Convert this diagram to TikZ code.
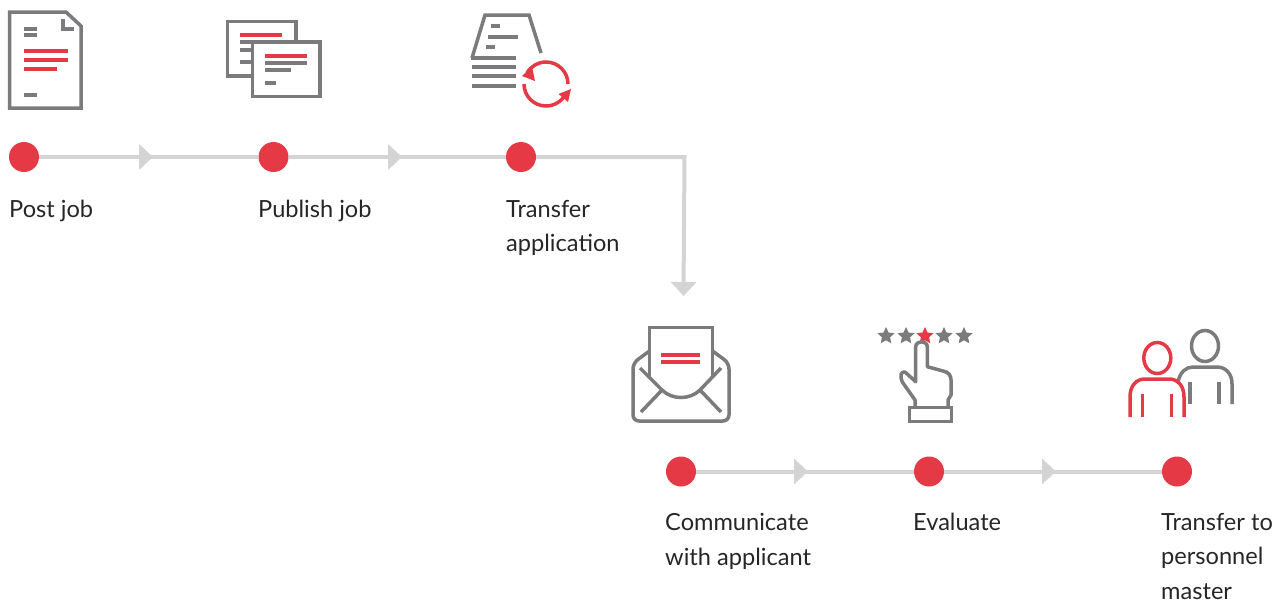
\documentclass[tikz,border=0pt]{standalone}
\usepackage{fontspec}
\setmainfont{Lato}
\usetikzlibrary{arrows.meta,shapes.geometric}
\definecolor{rd}{HTML}{E63946}
\definecolor{gy}{HTML}{7B7B7D}
\definecolor{ln}{HTML}{D4D4D4}
\tikzset{
  bullet/.style={circle,fill=rd,minimum size=30pt,inner sep=0pt},
  conn/.style={draw=ln,line width=4pt},
  flow/.style={conn,-{Triangle[length=14pt,width=25pt,fill=ln]}},
  lab/.style={anchor=north west,inner sep=0pt,align=left,text=black!85,font=\fontsize{23.6}{34.6}\selectfont},
  gl/.style={draw=gy,line width=3.5pt},
  rl/.style={draw=rd,line width=3.5pt},
  bar/.style={draw=gy,line width=4pt},
  rbar/.style={draw=rd,line width=4pt},
  str/.style={star,star points=5,star point ratio=2.1,minimum size=18pt,inner sep=0pt,fill=gy},
}
\begin{document}
\begin{tikzpicture}[x=1pt,y=-1pt]
\useasboundingbox (0,0) rectangle (1277,600);
% connectors
\coordinate (n1c) at (24,157);
\coordinate (n2c) at (273.5,157);
\coordinate (n3c) at (521,157);
\coordinate (n4c) at (681,471.5);
\coordinate (n5c) at (929,471.5);
\coordinate (n6c) at (1177,471.5);
\coordinate (a1) at (153,157);
\coordinate (a2) at (402,157);
\coordinate (c1) at (684.5,157);
\coordinate (a3) at (683.5,296);
\coordinate (a4) at (808,471.5);
\coordinate (a5) at (1056,471.5);
\node[bullet] (n1) at (n1c) {};
\node[bullet] (n2) at (n2c) {};
\node[bullet] (n3) at (n3c) {};
\node[bullet] (n4) at (n4c) {};
\node[bullet] (n5) at (n5c) {};
\node[bullet] (n6) at (n6c) {};
\draw[conn] (n1) -- (n2);
\draw[flow] (n1) -- (a1);
\draw[conn] (n2) -- (n3);
\draw[flow] (n2) -- (a2);
\draw[flow] (n3) -- (c1) -- (a3);
\draw[conn] (n4) -- (n5);
\draw[flow] (n4) -- (a4);
\draw[conn] (n5) -- (n6);
\draw[flow] (n5) -- (a5);
% labels
\node[lab] (t1) at (9,200) {Post job};
\node[lab] (t2) at (258,200) {Publish job};
\node[lab] (t3) at (506,200) {Transfer\\application};
\node[lab] (t4) at (665,513) {Communicate\\with applicant};
\node[lab] (t5) at (913,513) {Evaluate};
\node[lab] (t6) at (1161,513) {Transfer to\\personnel\\master};
% icon 1
\draw[gl] (9.5,12) -- (66,12) -- (81,26) -- (81,108) -- (9.5,108) -- cycle;
\draw[gl] (63,19) -- (63,29) -- (74,29);
\draw[bar] (24,29) -- (37,29) (24,35) -- (37,35) (24,95) -- (37,95);
\draw[rbar] (24,51) -- (68,51) (24,60) -- (68,60) (24,69) -- (57,69);
% icon 2
\draw[gl] (227.5,21.5) rectangle (296,76);
\draw[rbar] (240,35) -- (282,35);
\draw[bar] (240,42) -- (252,42) (240,50) -- (252,50) (240,62) -- (252,62);
\draw[gl,fill=white] (252.5,42) rectangle (320,96.5);
\draw[rbar] (265,56) -- (307,56);
\draw[bar] (265,63) -- (307,63) (265,70) -- (291,70) (265,83) -- (276,83);
% icon 3
\draw[gl] (472,58) -- (485,15) -- (529,15) -- (541,53);
\draw[bar] (471,58) -- (516,58) (472,67) -- (516,67) (472,76) -- (516,76) (472,86) -- (516,86);
\draw[bar] (491,26) -- (500,26) (488,37) -- (518,37) (486,47) -- (495,47);
\draw[rl] (568,84) arc[start angle=0,end angle=-150,radius=22];
\draw[rl] (524,84) arc[start angle=180,end angle=25,radius=22];
\fill[rd] (522,76) -- (532,66.5) -- (535,81) -- cycle;
\fill[rd] (571,89) -- (558.5,94) -- (568,102) -- cycle;
% icon 4
\draw[gl,rounded corners=6pt] (649.5,351) -- (633,363) -- (633,421) -- (729,421) -- (729,363) -- (712.5,351);
\draw[gl,fill=white] (649.5,378) -- (649.5,327.5) -- (712.5,327.5) -- (712.5,378);
\draw[gl] (640,368) -- (662,390) .. controls (672,400) and (690,400) .. (700,390) -- (721,368);
\draw[gl] (662,390) -- (641,412) (700,390) -- (721,412);
\draw[rbar] (661,355) -- (700,355) (661,362) -- (700,362);
% icon 5
\node[str] (s1) at (886,336) {};
\node[str] (s2) at (906,336) {};
\node[str,fill=rd] (s3) at (925,336) {};
\node[str] (s4) at (944,336) {};
\node[str] (s5) at (964,336) {};
\draw[gl,line join=round] (915,407) -- (915,400) -- (903,383) .. controls (899,376) and (901,371) .. (905,372) -- (915.7,381.7) -- (915.7,347) .. controls (915.7,340) and (927.3,340) .. (927.3,347) -- (927.3,366.7) -- (943,371) .. controls (949,372) and (951,376) .. (951,380) -- (951,395) -- (948,400) -- (948,407);
\draw[gl] (909.5,407.5) rectangle (951.5,421.5);
% icon 6
\draw[gl] (1205,346) ellipse[x radius=13.5,y radius=15.5];
\draw[gl] (1178,382) .. controls (1180,372) and (1186,367) .. (1193,367) -- (1217,367) .. controls (1226,367) and (1232,374) .. (1232,384) -- (1232,404);
\draw[gl] (1190,382) -- (1190,404) (1219,382) -- (1219,404);
\draw[rl] (1157.3,358) ellipse[x radius=13.5,y radius=15.5];
\draw[rl] (1130,417) -- (1130,397) .. controls (1130,386) and (1136,379) .. (1145,379) -- (1169,379) .. controls (1178,379) and (1184,386) .. (1184,397) -- (1184,417);
\draw[rl] (1142.7,394) -- (1142.7,417) (1171.7,394) -- (1171.7,417);
\end{tikzpicture}
\end{document}
